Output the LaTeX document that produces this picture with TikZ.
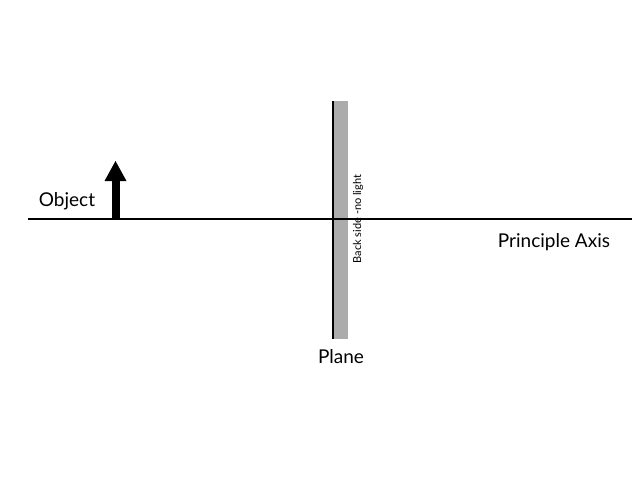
\documentclass[tikz,border=0pt]{standalone}
\usepackage{fontspec}
\setmainfont{Lato}
\begin{document}
\begin{tikzpicture}[x=1pt,y=-1pt,
  lbl/.style={inner sep=0pt,font=\fontsize{19}{22}\selectfont}]
\useasboundingbox (0,0) rectangle (640,480);
\fill[gray!65] (333,101) rectangle (348,339);
\coordinate (axL) at (28,219);
\coordinate (axR) at (632,219);
\draw[line width=2.5pt] (axL) -- (axR);
\coordinate (mt) at (333,101);
\coordinate (mb) at (333,339);
\draw[line width=2pt] (mt) -- (mb);
\fill (111.5,220) rectangle (119.5,180);
\fill (104.5,181) -- (115.5,161) -- (126.5,181) -- cycle;
\node[lbl] (obj) at (67,201) {Object};
\node[lbl] (pa) at (554,242) {Principle Axis};
\node[lbl] (pl) at (341,357) {Plane};
\node[inner sep=0pt,rotate=90,font=\fontsize{11}{13}\selectfont] (bs) at (358,219) {Back side -no light};
\end{tikzpicture}
\end{document}
